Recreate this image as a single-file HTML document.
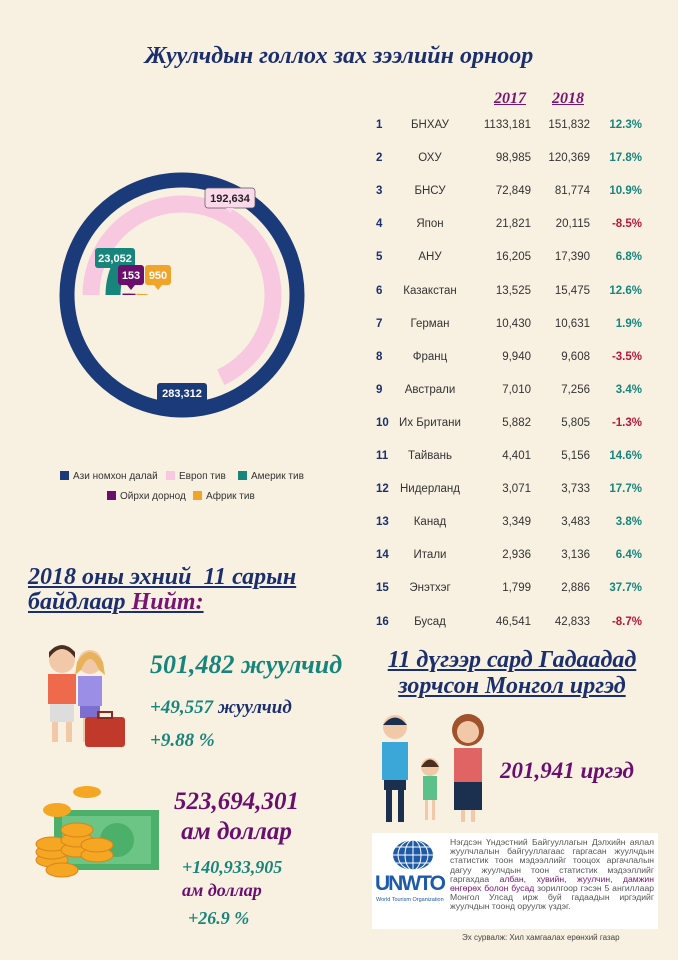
<!DOCTYPE html>
<html><head><meta charset="utf-8">
<style>
body{margin:0;width:678px;height:960px;overflow:hidden;background:#f8f1e2;font-family:"Liberation Sans",sans-serif;position:relative}
.abs{position:absolute}
.script{font-family:"Liberation Serif",serif;font-style:italic;font-weight:bold}
.row{position:absolute;left:370px;width:280px;height:20px;font-size:11.5px;color:#333}
.row span{position:absolute;top:0}
.lg{position:absolute;font-size:10px;color:#333}
.lg i{display:inline-block;width:9px;height:9px;margin-right:4px;vertical-align:-1px}
</style></head><body>
<div class="abs script" style="left:0;width:678px;top:43px;text-align:center;font-size:24px;color:#1b2f6e">Жуулчдын голлох зах зээлийн орноор</div>

<svg class="abs" style="left:0;top:0" width="340" height="520" id="chart"></svg>

<div class="lg" style="left:60px;top:471px"><i style="background:#1b3a7a"></i>Ази номхон далай</div>
<div class="lg" style="left:166px;top:471px"><i style="background:#f7c8e0"></i>Европ тив</div>
<div class="lg" style="left:238px;top:471px"><i style="background:#17857c"></i>Америк тив</div>
<div class="lg" style="left:107px;top:491px"><i style="background:#6b0f6e"></i>Ойрхи дорнод</div>
<div class="lg" style="left:193px;top:491px"><i style="background:#f0a42a"></i>Африк тив</div>

<div class="abs script" style="left:494px;top:90px;font-size:16px;color:#7a1470;text-decoration:underline">2017</div>
<div class="abs script" style="left:552px;top:90px;font-size:16px;color:#7a1470;text-decoration:underline">2018</div>
<div id="table"></div>

<div class="abs script" style="left:28px;top:565px;font-size:24px;line-height:25px;color:#1b2f6e;text-decoration:underline">2018 оны эхний &nbsp;11 сарын<br>байдлаар <span style="color:#7a1470">Нийт:</span></div>

<svg class="abs" style="left:35px;top:640px" width="100" height="110">
<circle cx="27" cy="20" r="13" fill="#f2c9a8"/><path d="M14 18 Q27 0 40 18 L40 12 Q27 -2 14 12Z" fill="#4a2e1f"/>
<rect x="13" y="34" width="28" height="30" fill="#ef6a4c"/><rect x="15" y="64" width="24" height="18" fill="#ddd"/>
<rect x="17" y="82" width="6" height="20" fill="#f2c9a8"/><rect x="31" y="82" width="6" height="20" fill="#f2c9a8"/>
<circle cx="55" cy="22" r="12" fill="#f2c9a8"/><path d="M42 22 Q55 2 68 22 L70 35 L64 30 Q55 8 46 30 L40 35Z" fill="#e8b25a"/>
<rect x="43" y="36" width="24" height="30" fill="#9b8ee6"/><rect x="45" y="66" width="20" height="12" fill="#7d6fd0"/>
<rect x="48" y="78" width="5" height="24" fill="#f2c9a8"/><rect x="57" y="78" width="5" height="22" fill="#f2c9a8"/>
<rect x="50" y="77" width="40" height="30" rx="3" fill="#c0392b"/><rect x="63" y="72" width="14" height="6" fill="none" stroke="#8a2a20" stroke-width="2"/>
</svg>
<div class="abs script" style="left:150px;top:650px;font-size:26px;color:#17857c">501,482 жуулчид</div>
<div class="abs script" style="left:150px;top:697px;font-size:19px;color:#1b2f6e"><span style="color:#17857c">+49,557</span> жуулчид</div>
<div class="abs script" style="left:150px;top:730px;font-size:19px;color:#17857c">+9.88 %</div>

<svg class="abs" style="left:32px;top:780px" width="130" height="110">
<rect x="22" y="30" width="105" height="60" fill="#4caf6a"/><rect x="30" y="36" width="89" height="48" fill="#6cc485"/><circle cx="85" cy="60" r="17" fill="#4caf6a"/>
<ellipse cx="55" cy="12" rx="14" ry="6" fill="#f5a623"/><ellipse cx="25" cy="30" rx="14" ry="7" fill="#f5a623"/>
<g fill="#f5a623" stroke="#d9841a"><ellipse cx="20" cy="80" rx="16" ry="7"/><ellipse cx="20" cy="72" rx="16" ry="7"/><ellipse cx="20" cy="64" rx="16" ry="7"/><ellipse cx="45" cy="70" rx="16" ry="7"/><ellipse cx="45" cy="60" rx="16" ry="7"/><ellipse cx="45" cy="50" rx="16" ry="7"/><ellipse cx="65" cy="75" rx="16" ry="7"/><ellipse cx="65" cy="65" rx="16" ry="7"/><ellipse cx="30" cy="90" rx="16" ry="7"/></g>
</svg>
<div class="abs script" style="left:174px;top:787px;font-size:25px;line-height:30px;color:#6b0f6e;text-align:center">523,694,301<br>ам доллар</div>
<div class="abs script" style="left:182px;top:856px;font-size:18px;line-height:23px;color:#6b0f6e"><span style="color:#17857c">+140,933,905</span><br>ам доллар</div>
<div class="abs script" style="left:188px;top:908px;font-size:18px;color:#17857c">+26.9 %</div>

<div class="abs script" style="left:372px;top:647px;font-size:24px;line-height:26px;color:#1b2f6e;text-decoration:underline;text-align:center;width:280px">11 дүгээр сард Гадаадад<br>зорчсон Монгол иргэд</div>
<svg class="abs" style="left:370px;top:712px" width="120" height="115">
<circle cx="25" cy="15" r="12" fill="#f2c9a8"/><path d="M13 13 Q25 -2 37 13Z" fill="#1b2f4e"/>
<rect x="12" y="30" width="26" height="38" fill="#3aa7d8"/><rect x="14" y="68" width="22" height="10" fill="#1b2f4e"/>
<rect x="16" y="78" width="6" height="32" fill="#1b2f4e"/><rect x="28" y="78" width="6" height="32" fill="#1b2f4e"/>
<circle cx="60" cy="55" r="9" fill="#f2c9a8"/><path d="M51 55 Q60 40 69 55Z" fill="#4a2e1f"/><rect x="53" y="64" width="14" height="24" fill="#5cc08a"/>
<rect x="55" y="88" width="3" height="20" fill="#f2c9a8"/><rect x="62" y="88" width="3" height="20" fill="#f2c9a8"/>
<circle cx="98" cy="18" r="16" fill="#a0522d"/><circle cx="98" cy="20" r="11" fill="#f2c9a8"/>
<rect x="84" y="36" width="28" height="34" fill="#e06464"/><rect x="84" y="70" width="28" height="28" fill="#1b2f4e"/>
<rect x="91" y="98" width="4" height="12" fill="#f2c9a8"/><rect x="101" y="98" width="4" height="12" fill="#f2c9a8"/>
</svg>
<div class="abs script" style="left:500px;top:758px;font-size:23px;color:#6b0f6e">201,941 иргэд</div>

<div class="abs" style="left:372px;top:833px;width:286px;height:96px;background:#fff">
<svg class="abs" style="left:20px;top:6px" width="42" height="32"><ellipse cx="21" cy="16" rx="20" ry="15" fill="#1e5aa8"/><g stroke="#fff" stroke-width="1" fill="none"><ellipse cx="21" cy="16" rx="8" ry="15"/><ellipse cx="21" cy="16" rx="15" ry="15"/><line x1="21" y1="1" x2="21" y2="31"/><line x1="1" y1="16" x2="41" y2="16"/><line x1="4" y1="8" x2="38" y2="8"/><line x1="4" y1="24" x2="38" y2="24"/></g></svg>
<div class="abs" style="left:3px;top:39px;font-size:21px;font-weight:bold;color:#1e5aa8;letter-spacing:-2px">UNWTO</div>
<div class="abs" style="left:4px;top:64px;font-size:5.5px;color:#1e5aa8">World Tourism Organization</div>
<div class="abs" style="left:78px;top:5px;width:204px;font-size:8.6px;line-height:9.2px;color:#555;text-align:justify">Нэгдсэн Үндэстний Байгууллагын Дэлхийн аялал жуулчлалын байгууллагаас гаргасан жуулчдын статистик тоон мэдээллийг тооцох аргачлалын дагуу жуулчдын тоон статистик мэдээллийг гаргахдаа <span style="color:#7a1470">албан, хувийн, жуулчин, дамжин өнгөрөх болон бусад</span> зорилгоор гэсэн 5 ангиллаар Монгол Улсад ирж буй гадаадын иргэдийг жуулчдын тоонд оруулж үздэг.</div>
</div>
<div class="abs" style="left:462px;top:933px;font-size:8px;color:#444">Эх сурвалж: Хил хамгаалах ерөнхий газар</div>

<script>
const regions=["Ази номхон далай","Европ тив","Америк тив","Ойрхи дорнод","Африк тив"];
const regionValues=[283312,192634,23052,153,950];
const regionLabels=["283,312","192,634","23,052","153","950"];
const countries=["БНХАУ","ОХУ","БНСУ","Япон","АНУ","Казакстан","Герман","Франц","Австрали","Их Британи","Тайвань","Нидерланд","Канад","Итали","Энэтхэг","Бусад"];
const v2017=[1133181,98985,72849,21821,16205,13525,10430,9940,7010,5882,4401,3071,3349,2936,1799,46541];
const v2018=[151832,120369,81774,20115,17390,15475,10631,9608,7256,5805,5156,3733,3483,3136,2886,42833];
const pctLabels=["12.3%","17.8%","10.9%","-8.5%","6.8%","12.6%","1.9%","-3.5%","3.4%","-1.3%","14.6%","17.7%","3.8%","6.4%","37.7%","-8.7%"];

const NS="http://www.w3.org/2000/svg";
const svg=document.getElementById('chart');
const cx=182,cy=295;
const colors=["#1b3a7a","#f7c8e0","#17857c","#6b0f6e","#f0a42a"];
const radii=[115,91,69,53,40],widths=[15,17,15,13,11];
const startAng=[0,270,270,270,270];
const maxV=Math.max(...regionValues);
function ang(v){return v/maxV*360;}
function pt(r,a){const t=(a-90)*Math.PI/180;return [cx+r*Math.cos(t),cy+r*Math.sin(t)];}
regionValues.forEach((v,i)=>{
  let el;
  const span=Math.max(ang(v),1.5);
  if(span>=359.9){el=document.createElementNS(NS,'circle');el.setAttribute('cx',cx);el.setAttribute('cy',cy);el.setAttribute('r',radii[i]);}
  else{const a0=startAng[i],a1=a0+span;const p0=pt(radii[i],a0),p1=pt(radii[i],a1);
    el=document.createElementNS(NS,'path');el.setAttribute('d',`M${p0[0]},${p0[1]} A${radii[i]},${radii[i]} 0 ${span>180?1:0} 1 ${p1[0]},${p1[1]}`);}
  el.setAttribute('fill','none');el.setAttribute('stroke',colors[i]);el.setAttribute('stroke-width',widths[i]);
  
  
  svg.appendChild(el);
});
const labelPos=[[182,393,50],[230,198,50],[115,258,40],[131,275,26],[158,275,26]];
const labelFill=["#1b3a7a","#fbd9ea","#17857c","#6b0f6e","#f0a42a"];
const labelText=["#fff","#222","#fff","#fff","#fff"];
regionLabels.forEach((t,i)=>{
  const [x,y,w]=labelPos[i];
  const g=document.createElementNS(NS,'g');
  
  
  const r=document.createElementNS(NS,'rect');r.setAttribute('x',x-w/2);r.setAttribute('y',y-10);r.setAttribute('width',w);r.setAttribute('height',20);r.setAttribute('rx',3);r.setAttribute('fill',labelFill[i]);r.setAttribute('stroke',i==1?'#555':'none');r.setAttribute('stroke-width',0.7);
  const p=document.createElementNS(NS,'path');p.setAttribute('d',`M${x-4},${y+10} L${x},${y+15} L${x+4},${y+10}Z`);p.setAttribute('fill',labelFill[i]);
  const tx=document.createElementNS(NS,'text');tx.setAttribute('x',x);tx.setAttribute('y',y+4);tx.setAttribute('text-anchor','middle');tx.setAttribute('font-size',11);tx.setAttribute('font-weight','bold');tx.setAttribute('fill',labelText[i]);tx.setAttribute('font-family','Liberation Sans');tx.textContent=t;
  g.appendChild(r);g.appendChild(p);g.appendChild(tx);svg.appendChild(g);
});

const tb=document.getElementById('table');
function fmt(n){return n.toLocaleString('en-US');}
countries.forEach((c,i)=>{
  const row=document.createElement('div');row.className='row';row.style.top=(119+i*33.1)+'px';
  
  
  const neg=pctLabels[i].startsWith('-');
  row.innerHTML=`<span style="left:6px;font-weight:bold;color:#1b2f6e">${i+1}</span><span style="left:20px;width:80px;text-align:center">${c}</span><span style="right:119px">${i==0?'1133,181':fmt(v2017[i])}</span><span style="right:60px">${fmt(v2018[i])}</span><span style="right:8px;font-weight:bold;color:${neg?'#b5173a':'#17857c'}">${pctLabels[i]}</span>`;
  tb.appendChild(row);
});
</script>
</body></html>
